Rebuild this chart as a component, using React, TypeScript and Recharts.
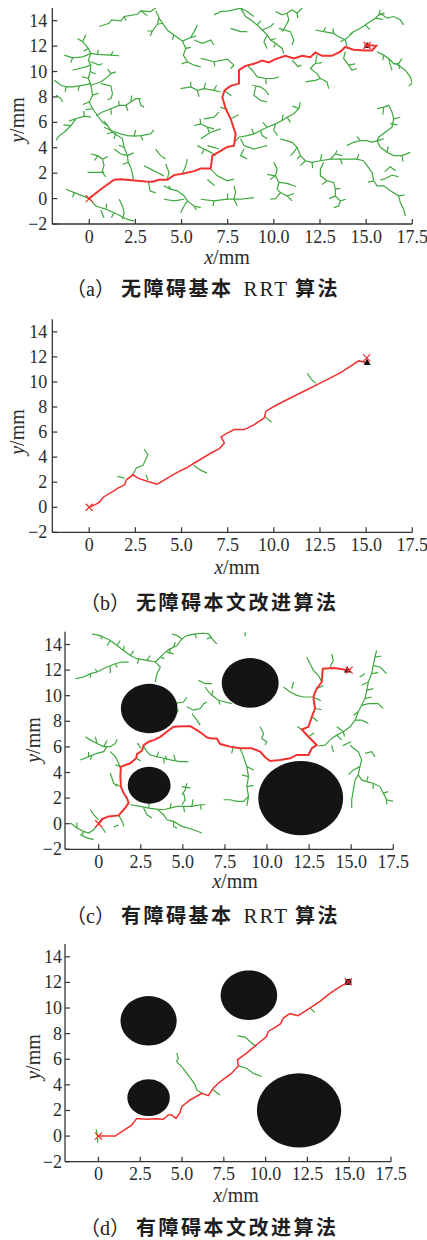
import React from "react";
import { ComposedChart, Line, Scatter, XAxis, YAxis } from "recharts";

const X_TICKS = [0, 2.5, 5, 7.5, 10, 12.5, 15, 17.5];
const Y_TICKS = [-2, 0, 2, 4, 6, 8, 10, 12, 14];
const X_DOMAIN = [-2, 17.5];
const Y_DOMAIN = [-2, 15];

const GREEN = "#3da83d";
const RED = "#f2302e";
const AXIS = "#333";
const SERIF = '"Liberation Serif", "Times New Roman", serif';
const CJK = '"Noto Sans CJK SC", sans-serif';

// obstacles (c) and (d): centre and half-axes in mm
const OBST_X = [3, 9, 3, 12];
const OBST_Y = [9, 11, 3, 2];
const OBST_RX = [1.68, 1.69, 1.27, 2.52];
const OBST_RY = [1.93, 1.94, 1.44, 2.9];

// start / goal
const START = [0, 0];
const GOAL_A = [15.05, 12.05];
const GOAL_B = [15.03, 11.92];
const GOAL_B_TRI = [15.05, 11.6];
const GOAL_C = [14.88, 12.0];
const GOAL_D = [14.95, 12.04];

// red paths, flat x,y pairs
const A_PATH = [0, 0, 0.63, 0.74, 1.35, 1.48, 1.71, 1.53, 3.06, 1.35, 3.42, 1.32, 3.78, 1.48, 4.23, 1.48, 4.59, 1.85, 5.05, 1.95, 5.68, 2.16, 6.04, 2.37, 6.58, 2.37, 6.67, 3.38, 7.12, 3.75, 7.48, 4.06, 7.84, 4.17, 7.93, 5.09, 7.66, 6.28, 7.39, 7.07, 7.21, 7.97, 7.33, 8.52, 7.66, 8.87, 8.11, 9.05, 8.11, 10.11, 8.47, 10.45, 8.92, 10.61, 9.37, 10.87, 9.73, 10.71, 10.09, 10.98, 10.63, 11.24, 11.08, 11.03, 11.53, 11.24, 11.98, 11.13, 12.25, 11.5, 12.61, 11.24, 13.15, 11.24, 13.6, 11.56, 13.87, 11.93, 14.32, 11.72, 14.95, 11.66, 15.32, 11.66, 15.55, 12.03, 15.05, 12.08];
const B_PATH = [0.09, 0.05, 0.4, 0.27, 0.58, 0.45, 0.76, 0.8, 1.2, 1.18, 1.56, 1.52, 1.92, 1.79, 2.01, 2.19, 2.37, 2.59, 2.64, 2.32, 3.18, 2.06, 3.69, 1.84, 4.08, 2.19, 4.53, 2.59, 4.98, 2.94, 5.25, 3.13, 5.7, 3.53, 6.15, 3.93, 6.6, 4.33, 7.05, 4.68, 7.32, 5.13, 7.14, 5.61, 7.5, 5.93, 7.86, 6.2, 8.4, 6.2, 8.94, 6.6, 9.48, 7.13, 9.57, 7.67, 10.2, 8.2, 10.92, 8.74, 11.82, 9.4, 12.72, 10.07, 13.62, 10.74, 14.6, 11.68, 15.05, 11.54];
const C_PATH = [0, 0, 0.2, 0.36, 0.59, 0.57, 1.19, 0.65, 1.48, 1.09, 1.78, 1.61, 1.68, 2.0, 1.48, 2.39, 1.32, 2.9, 1.29, 3.68, 1.32, 4.46, 1.88, 4.72, 2.23, 5.11, 2.27, 5.44, 2.57, 5.7, 2.67, 6.14, 2.97, 6.4, 3.26, 6.53, 3.66, 6.79, 4.05, 7.18, 4.45, 7.57, 5.04, 7.62, 5.44, 7.62, 5.83, 7.31, 6.13, 7.05, 6.43, 6.74, 6.72, 6.66, 7.02, 6.66, 7.22, 6.22, 7.81, 6.02, 8.4, 5.89, 9.1, 5.89, 9.59, 5.63, 9.89, 5.19, 10.18, 4.9, 10.78, 4.98, 11.37, 5.11, 11.77, 5.37, 12.46, 5.37, 12.66, 5.89, 12.95, 6.14, 12.46, 6.79, 12.06, 7.36, 12.46, 7.57, 12.66, 8.35, 12.85, 9.0, 12.75, 9.9, 12.95, 10.55, 13.25, 11.07, 13.31, 12.11, 13.94, 12.16, 14.34, 12.11, 14.83, 11.98];
const D_PATH = [0, 0, 1.0, 0, 1.49, 0.42, 1.99, 0.86, 2.29, 1.38, 2.89, 1.31, 3.49, 1.36, 3.88, 1.31, 4.18, 1.65, 4.38, 1.65, 4.64, 1.38, 4.88, 1.83, 4.98, 2.3, 5.48, 2.82, 6.18, 3.34, 6.57, 3.16, 6.87, 3.73, 7.17, 4.13, 7.57, 4.52, 7.97, 4.91, 8.37, 5.48, 8.31, 5.95, 8.86, 6.48, 9.46, 7.13, 10.06, 7.78, 10.16, 8.17, 10.66, 8.57, 10.9, 8.78, 11.06, 9.22, 11.45, 9.56, 11.95, 9.4, 12.55, 9.92, 13.25, 10.52, 13.75, 11.05, 14.24, 11.49, 14.94, 12.04];

// green random trees, one flat x,y list per branch
const A_TREE = [
  [-0.36, 12.35, -0.05, 11.82, 0.09, 11.42, -0.05, 10.9, 0.09, 10.5, 0.05, 10.0, -0.05, 9.45, 0.09, 8.92, 0.18, 8.13, 0, 7.6, 0.18, 7.07, 0.45, 6.54, 0.72, 6.0, 0.99, 5.75, 1.26, 5.22, 1.53, 4.96, 1.8, 4.7, 1.89, 4.04, 2.07, 3.38, 2.11, 2.85, 2.25, 2.45, 2.34, 1.93, 2.4, 1.5],
  [-0.36, 12.35, -0.63, 12.6],
  [-0.36, 12.35, -0.18, 12.9],
  [-1.35, 11.29, -0.9, 11.08, -0.36, 11.16, 0.09, 11.42, 0.45, 11.35, 1.17, 11.29, 1.62, 11.24],
  [-0.9, 10.1, -0.54, 10.24, -0.18, 10.37, 0.05, 10.5],
  [0.09, 10.77, 0.54, 10.5, 0.72, 10.63],
  [-1.89, 9.31, -1.53, 8.92, -1.26, 8.79, -0.9, 8.79, -0.54, 8.87, -0.18, 8.97, 0.09, 9.05],
  [0.09, 8.92, 0.63, 9.18, 0.99, 9.58, 1.17, 9.84, 1.44, 9.97],
  [0.63, 9.05, 1.17, 8.87, 1.26, 8.26, 1.17, 7.86, 0.99, 7.81],
  [-1.8, 8.13, -1.53, 7.86, -1.44, 7.6],
  [-1.35, 5.22, -0.99, 5.75, -0.72, 6.28, -0.27, 6.49, 0.09, 6.41],
  [-1.35, 5.22, -1.62, 4.96, -1.8, 4.6],
  [0.36, 6.54, 0.72, 6.81, 1.17, 7.07, 1.62, 7.34, 1.98, 7.34, 2.25, 7.6, 2.52, 7.86, 2.79, 7.86],
  [2.7, 7.86, 2.79, 7.34, 2.97, 7.2],
  [0.81, 5.62, 1.17, 5.36, 1.44, 5.22, 1.71, 5.09, 2.07, 4.96, 2.43, 4.91, 2.79, 4.96, 3.33, 5.09],
  [1.44, 5.22, 1.35, 4.7],
  [2.43, 4.91, 2.52, 5.4],
  [-0.72, 6.28, -1.1, 6.1],
  [1.17, 7.07, 1.2, 6.6],
  [1.98, 7.34, 2.1, 6.9],
  [0.09, 3.51, 0.45, 3.38, 0.72, 3.12, 0.8, 2.6, 0.7, 2.1, 0.9, 1.7],
  [-0.09, 2.06, 0.36, 2.06, 0.81, 2.06],
  [-1.26, 0.74, -0.81, 0.47, -0.36, 0.21, 0, 0],
  [0, 0, 0.36, -0.58, 0.9, -0.84, 1.35, -1.11, 1.71, -1.37, 2.07, -1.64, 2.43, -1.77],
  [1.62, -0.05, 1.8, -0.58, 1.89, -1.11, 1.8, -1.64],
  [0.63, -0.9, 0.8, -1.5],
  [1.35, 3.9, 1.71, 3.51, 2.07, 3.38],
  [3.6, 3.9, 3.87, 3.38, 4.14, 3.12],
  [2.97, 2.59, 3.33, 2.32, 3.69, 2.06, 4.05, 1.79],
  [4.14, 2.72, 4.32, 2.06, 4.23, 1.53],
  [5.86, 4.17, 6.22, 3.9, 6.58, 3.64, 6.85, 3.38],
  [5.68, 5.75, 6.04, 5.88, 6.4, 5.62, 6.76, 5.49],
  [4.05, 1.0, 4.41, 0.74, 4.77, 0.61, 5.14, 0.21, 5.32, -0.18, 5.68, -0.58, 6.04, -0.71],
  [5.32, -0.18, 5.14, -0.58, 4.95, -1.11],
  [4.05, -0.05, 4.59, -0.18, 5.14, -0.05],
  [6.04, -0.05, 6.76, -0.18, 7.48, -0.05, 8.2, -0.05, 8.92, 0.08],
  [7.84, 1.0, 7.93, 0.47, 7.84, -0.05, 8.02, -0.58],
  [3.2, 1.35, 3.3, 0.6, 3.6, 0.45],
  [6.58, 2.32, 6.94, 1.79, 7.48, 1.4, 7.84, 1.53],
  [6.4, 1.5, 6.8, 1.0],
  [5.05, 1.95, 5.23, 2.59, 5.32, 3.11],
  [0.54, 13.54, 1.08, 13.8, 1.21, 14.06, 1.71, 13.98, 1.89, 14.33, 2.61, 14.51, 2.79, 14.78, 3.33, 14.72, 3.6, 14.99],
  [2.79, 14.78, 3.15, 14.4],
  [3.6, 14.78, 3.78, 14.25, 3.69, 13.72, 3.42, 13.19, 3.15, 13.19],
  [3.78, 14.2, 4.23, 13.27, 4.59, 12.88, 5.05, 12.4, 5.5, 12.67, 5.68, 13.14, 5.86, 13.67],
  [5.05, 12.4, 5.23, 11.82, 5.1, 11.29, 5.32, 10.77, 5.68, 10.5, 6.04, 10.37],
  [5.68, 12.48, 6.13, 12.22, 6.58, 12.48, 6.76, 12.09],
  [6.04, 11.03, 6.76, 10.77, 7.48, 10.98, 7.84, 10.5, 7.66, 10.24],
  [6.76, 14.46, 7.12, 14.72, 7.57, 14.78, 8.2, 14.99, 8.56, 14.72, 8.92, 14.33],
  [8.2, 14.99, 8.47, 14.33, 8.74, 14.07, 9.1, 13.67, 9.37, 13.27, 9.64, 12.88, 9.82, 12.48, 10.09, 12.22, 10.45, 11.82, 10.54, 11.42],
  [7.66, 13.4, 8.2, 13.14, 8.56, 13.14],
  [9.37, 13.27, 9.82, 13.54, 10.0, 13.8],
  [9.64, 12.88, 9.46, 12.35, 9.64, 11.82],
  [10.09, 14.72, 10.45, 14.46, 10.72, 14.59, 10.99, 14.86, 11.26, 14.59, 11.53, 14.99],
  [10.72, 14.59, 10.81, 14.07, 10.63, 13.54, 10.45, 13.14],
  [10.27, 13.4, 10.9, 13.14, 11.08, 12.48, 10.99, 12.09],
  [8.6, 10.45, 8.83, 10.1, 9.1, 9.58, 9.55, 9.45, 10.0, 9.45, 10.27, 9.58],
  [8.83, 8.92, 9.28, 8.79, 9.55, 8.52, 9.73, 8.13],
  [9.01, 8.79, 8.92, 8.13, 9.28, 7.73, 9.64, 7.6],
  [12.34, 11.29, 12.25, 10.63, 11.98, 10.24, 12.34, 9.84, 12.52, 9.45, 12.25, 9.31, 11.71, 9.18],
  [12.52, 9.45, 12.88, 9.18, 12.97, 8.65],
  [12.25, 13.27, 12.7, 13.14, 13.24, 13.0, 13.51, 12.74, 13.87, 12.48, 13.96, 12.0],
  [13.6, 12.35, 13.96, 12.61, 14.32, 13.14, 14.68, 13.4, 14.95, 13.67, 15.23, 13.93, 15.5, 14.2, 15.68, 14.46, 15.77, 14.85],
  [15.77, 14.59, 16.13, 14.2, 16.49, 14.33, 16.85, 14.07, 17.03, 13.67],
  [15.5, 14.2, 15.9, 14.1],
  [14.95, 13.67, 15.2, 13.3],
  [13.87, 11.56, 13.78, 11.03, 14.05, 10.5, 14.23, 10.1, 14.5, 10.24],
  [15.59, 11.56, 15.95, 11.29, 16.22, 11.03, 16.49, 10.63, 16.76, 10.63, 16.94, 11.03],
  [16.49, 10.63, 16.76, 10.5, 17.12, 10.1, 17.39, 9.58, 17.5, 9.1, 17.3, 8.85],
  [16.22, 11.03, 16.31, 10.5, 16.4, 10.1],
  [11.0, 10.9, 11.3, 10.4, 11.5, 10.5],
  [7.3, 8.5, 7.7, 8.1],
  [7.7, 6.3, 8.1, 6.6],
  [7.5, 7.0, 7.1, 7.2],
  [11.44, 7.6, 11.35, 7.07, 11.08, 6.68, 10.72, 6.41, 10.45, 6.15, 10.09, 5.88, 9.64, 5.62, 9.28, 5.36, 8.92, 5.09, 8.56, 4.96, 8.11, 4.83, 7.9, 4.5],
  [10.72, 6.41, 10.9, 6.0],
  [10.09, 5.88, 10.0, 5.36, 10.2, 4.96],
  [9.28, 5.36, 9.37, 4.96, 9.64, 4.7],
  [11.35, 7.07, 11.0, 7.3],
  [9.64, 5.62, 9.4, 6.0],
  [10.36, 4.7, 10.99, 4.43, 11.26, 4.04, 11.44, 3.38, 11.71, 2.98, 12.07, 2.85, 12.52, 2.98, 13.06, 3.11, 13.6, 3.11, 13.96, 3.11, 14.5, 3.11, 14.86, 2.98],
  [11.26, 4.04, 11.08, 3.64, 10.9, 3.38],
  [11.44, 3.38, 11.26, 3.11],
  [11.71, 2.98, 11.44, 2.59],
  [12.52, 2.98, 12.6, 3.5],
  [13.06, 3.11, 13.33, 3.51, 13.42, 3.78],
  [13.33, 3.51, 13.7, 3.38],
  [13.96, 4.17, 14.32, 4.43, 14.68, 4.56, 15.05, 4.56, 15.32, 4.43, 15.59, 4.56, 15.95, 4.7],
  [15.59, 4.56, 15.77, 4.04, 16.13, 3.64, 16.49, 3.38, 16.94, 3.38, 17.39, 3.64],
  [15.59, 7.07, 15.95, 7.2, 16.22, 7.34, 16.4, 6.81, 16.49, 6.28, 16.4, 5.62, 16.04, 5.22, 15.68, 4.83, 15.59, 4.56],
  [16.49, 6.28, 16.85, 6.4],
  [16.3, 5.9, 16.7, 5.8],
  [15.95, 7.2, 15.9, 6.6],
  [14.68, 4.56, 14.5, 4.9],
  [14.86, 2.98, 15.05, 2.59, 15.32, 2.06, 15.41, 1.4, 15.59, 1.0, 15.95, 1.0, 16.31, 0.61, 16.76, 0.21, 16.85, -0.32, 17.03, -0.84, 17.12, -1.37],
  [15.77, 1.45, 16.04, 1.58, 16.4, 1.85, 16.76, 1.72],
  [16.0, 2.1, 16.3, 2.5, 16.6, 2.2],
  [12.7, 2.85, 12.52, 2.32, 12.52, 1.79, 12.88, 1.4, 13.24, 1.27, 13.33, 0.74, 13.33, 0.21, 13.6, -0.18, 13.51, -0.58, 13.24, -0.71],
  [13.33, 0.21, 13.0, 0.0],
  [13.6, -0.18, 13.9, -0.05],
  [10.0, 2.85, 10.18, 2.32, 10.09, 1.79, 10.27, 1.27, 10.18, 0.74, 10.36, 0.47, 10.72, 0.21, 10.99, -0.18],
  [9.64, 1.9, 10.09, 1.79],
  [10.27, 1.27, 10.72, 1.2, 11.2, 0.95],
  [10.36, 0.47, 10.1, 0.0, 9.8, -0.05],
  [10.72, 0.21, 11.1, 0.4],
  [8.2, 4.7, 8.38, 4.17, 8.92, 3.9, 9.28, 4.04, 9.64, 4.17],
  [8.38, 3.9, 8.2, 3.38, 8.56, 3.11],
  [4.95, 8.65, 5.5, 8.79, 5.86, 8.52, 6.22, 8.65, 6.76, 8.52, 7.12, 8.39],
  [5.86, 8.52, 5.95, 8.0],
  [6.22, 8.65, 6.3, 9.1],
  [7.03, 6.81, 6.76, 6.41, 6.22, 6.28],
  [6.04, 4.7, 6.58, 5.22, 7.12, 5.49],
  [6.4, 4.17, 7.03, 3.9],
];

// short side twigs of tree (a)
const A_TWIGS = [
  [-0.05, 11.82, -0.3, 11.6], [0.05, 10.0, 0.35, 9.8], [-0.05, 9.45, -0.4, 9.6], [0.18, 8.13, 0.5, 8.3],
  [0, 7.6, -0.35, 7.4], [0.18, 7.07, -0.2, 7.0], [0.99, 5.75, 0.8, 6.1], [1.26, 5.22, 0.95, 5.1],
  [1.89, 4.04, 1.6, 4.2], [2.07, 3.38, 2.4, 3.6], [2.11, 2.85, 1.8, 2.7], [-0.9, 11.08, -1.0, 10.7],
  [0.45, 11.35, 0.5, 11.7], [1.17, 11.29, 1.3, 11.6], [-1.26, 8.79, -1.3, 8.4], [-0.54, 8.87, -0.6, 8.5],
  [1.17, 9.84, 1.0, 10.2], [2.25, 7.6, 2.3, 8.1], [1.62, 7.34, 1.6, 7.7], [-0.27, 6.49, -0.3, 6.9],
  [-0.99, 5.75, -1.4, 5.8], [0.45, 3.38, 0.3, 3.0], [0.72, 3.12, 1.0, 3.3], [-0.81, 0.47, -0.9, 0.1],
  [0.9, -0.84, 0.95, -0.4], [1.35, -1.11, 1.2, -1.5], [3.69, 13.72, 4.0, 13.8], [4.59, 12.88, 4.5, 12.5],
  [5.5, 12.67, 5.8, 12.8], [5.23, 11.82, 5.5, 11.9], [5.32, 10.77, 5.0, 10.6], [6.76, 10.77, 6.8, 10.4],
  [9.1, 13.67, 9.3, 14.0], [9.82, 12.48, 10.1, 12.6], [10.09, 12.22, 10.0, 11.9], [12.7, 13.14, 12.8, 13.5],
  [14.32, 13.14, 14.1, 12.9], [15.68, 14.46, 16.0, 14.6], [16.76, 10.63, 16.8, 10.2], [15.95, 11.29, 15.9, 10.9],
  [10.45, 6.15, 10.5, 6.6], [8.92, 5.09, 8.8, 5.5], [12.07, 2.85, 12.1, 2.4], [13.6, 3.11, 13.7, 2.7],
  [14.5, 3.11, 14.6, 3.5], [16.13, 3.64, 16.2, 4.1], [16.94, 3.38, 17.0, 2.9], [15.41, 1.4, 15.1, 1.3],
  [16.76, 0.21, 17.1, 0.3], [12.88, 1.4, 12.6, 1.1], [13.33, 0.74, 13.6, 0.8], [10.09, 1.79, 9.8, 1.5],
  [7.48, -0.05, 7.5, 0.4], [6.76, -0.18, 6.7, -0.6], [4.41, 0.74, 4.3, 1.0], [5.68, -0.58, 5.8, -0.9],
  [6.22, 3.9, 6.1, 3.5], [6.04, 5.88, 6.0, 6.3], [6.4, 5.62, 6.5, 5.2], [5.5, 8.79, 5.5, 9.2],
  [6.76, 8.52, 6.9, 8.9], [3.33, 5.09, 3.5, 5.4], [2.79, 4.96, 2.9, 4.6], [3.42, 13.19, 3.3, 12.8],
  [1.89, 14.33, 2.0, 14.0], [11.26, 14.59, 11.3, 14.2], [13.24, 13.0, 13.2, 13.4], [9.55, 9.45, 9.6, 9.0],
  [12.25, 10.63, 12.6, 10.7], [14.05, 10.5, 14.4, 10.6],
];

const B_TREE = [
  [1.53, 2.46, 1.92, 2.32],
  [2.37, 2.59, 2.55, 3.13, 2.91, 3.34, 3.18, 4.19, 2.97, 4.65],
  [3.18, 2.19, 3.06, 2.59],
  [5.67, 3.34, 6.06, 2.94, 6.38, 2.72],
  [9.48, 7.27, 9.88, 6.79],
  [12.27, 9.89, 12.0, 10.26, 11.82, 10.69],
];

const C_TREE = [
  [-0.4, 14.83, 0.1, 14.7, 0.69, 14.31, 1.09, 13.92, 1.48, 13.53, 1.88, 13.14, 2.27, 12.89, 2.87, 12.76, 3.36, 12.63, 3.66, 12.24, 3.46, 11.72, 3.36, 11.07],
  [1.09, 13.92, 1.28, 14.31],
  [1.88, 13.14, 2.08, 13.5],
  [2.87, 12.76, 3.06, 13.14],
  [0.69, 14.31, 0.5, 13.9],
  [2.4, 12.9, 2.3, 12.5],
  [3.36, 12.63, 3.66, 13.01, 3.95, 13.4, 4.25, 13.66, 4.65, 13.92, 4.94, 14.44, 5.24, 14.7, 5.73, 14.83, 6.23, 14.88, 6.53, 14.83, 6.82, 14.31, 7.02, 14.05],
  [4.05, 13.4, 4.45, 13.27],
  [4.45, 13.8, 4.55, 14.2],
  [4.94, 14.44, 4.65, 14.7, 4.35, 14.83],
  [6.43, 14.44, 6.72, 14.57],
  [8.7, 14.65, 8.7, 14.95],
  [-1.38, 11.33, -0.89, 11.46, -0.49, 11.72, -0.1, 11.85, 0.49, 12.24, 0.99, 12.5, 1.38, 12.63, 1.78, 12.63],
  [-0.1, 11.85, -0.2, 12.1],
  [0.69, 12.3, 0.69, 11.75],
  [5.93, 11.2, 6.33, 10.94, 6.72, 10.94],
  [6.33, 10.68, 6.53, 10.29, 6.72, 10.03, 7.12, 9.64, 7.51, 9.51, 7.91, 9.38],
  [5.24, 9.13, 5.63, 8.87, 6.03, 9.0, 6.23, 9.38, 6.43, 9.51],
  [5.54, 8.61, 5.83, 8.09, 6.03, 7.7],
  [4.45, 9.38, 5.04, 9.51, 5.24, 9.9],
  [4.75, 8.9, 4.55, 8.5],
  [10.98, 10.68, 11.37, 10.29, 11.77, 10.03, 12.16, 9.9, 12.66, 9.9],
  [11.57, 11.07, 11.47, 10.55],
  [12.36, 13.01, 12.56, 12.5, 12.75, 11.98, 13.05, 11.59, 13.25, 11.07],
  [13.84, 13.27, 13.94, 12.76, 13.74, 12.24],
  [16.51, 13.53, 16.41, 13.01, 16.31, 12.37, 16.21, 11.72, 16.02, 11.07, 15.92, 10.42, 15.82, 9.77, 15.62, 9.25, 15.42, 8.74, 15.23, 8.09, 14.93, 7.57, 14.54, 7.18, 14.14, 6.92, 13.84, 6.66, 13.45, 6.14, 13.05, 6.07],
  [16.31, 12.37, 16.71, 12.24, 17.1, 11.72],
  [16.02, 11.07, 15.62, 10.81],
  [15.92, 10.42, 16.31, 10.55],
  [15.62, 9.25, 16.02, 9.38, 16.61, 9.38, 16.9, 8.99],
  [15.42, 8.74, 15.13, 8.48],
  [15.23, 8.09, 15.62, 8.09, 16.02, 7.83],
  [14.54, 7.18, 14.14, 7.57],
  [14.14, 6.92, 14.44, 6.53],
  [15.82, 11.72, 15.5, 11.46],
  [14.93, 6.14, 15.13, 5.89, 15.42, 5.63, 15.62, 4.98, 15.52, 4.46, 15.42, 3.81, 15.62, 3.42, 15.92, 3.29, 16.31, 3.16, 16.71, 2.9, 16.9, 2.39, 17.1, 1.87, 17.5, 1.74],
  [15.52, 4.46, 15.13, 4.2, 14.83, 3.81],
  [15.42, 3.81, 15.23, 3.42, 15.13, 2.64, 15.03, 1.87, 15.03, 1.22],
  [15.82, 5.5, 16.21, 5.63, 16.41, 5.24],
  [16.9, 2.39, 17.2, 2.5],
  [17.1, 1.87, 17.1, 1.5],
  [13.84, 6.14, 13.94, 5.6],
  [15.0, 6.4, 14.5, 6.1],
  [8.4, 5.89, 8.6, 5.24, 8.8, 4.46, 8.9, 3.68, 8.8, 2.9, 8.9, 2.13, 8.6, 1.74, 8.21, 1.74, 7.81, 1.87, 7.42, 1.87],
  [8.8, 4.46, 9.2, 4.2],
  [8.9, 3.68, 8.5, 3.81],
  [8.8, 2.9, 9.2, 3.0],
  [8.9, 2.13, 8.8, 1.4],
  [8.0, 6.1, 7.9, 5.5],
  [9.59, 7.57, 9.79, 7.05, 9.69, 6.66, 9.98, 6.4, 9.89, 6.14],
  [-0.79, 6.79, -0.49, 6.53, -0.1, 6.27, 0.3, 6.02, 0.69, 6.02, 0.99, 6.27],
  [-1.09, 4.98, -0.59, 5.24, -0.1, 5.5, 0.3, 5.63, 0.49, 6.02],
  [0.69, 5.63, 0.99, 5.24, 1.19, 4.72, 1.29, 4.33],
  [0.69, 3.94, 0.89, 3.16, 1.09, 2.9],
  [-0.4, 5.3, -0.5, 5.0],
  [-0.1, 6.27, -0.2, 6.8],
  [0.3, 6.02, 0.5, 6.5],
  [1.88, 1.48, 2.47, 1.35, 2.97, 1.22, 3.46, 1.14, 3.86, 1.09, 4.25, 1.22, 4.65, 1.35, 5.04, 1.35, 5.54, 1.35, 6.03, 1.48, 6.33, 1.48],
  [2.67, 1.22, 2.87, 0.7, 3.16, 0.44],
  [3.46, 1.14, 3.86, 0.7, 4.05, 0.31, 4.45, 0.18, 4.94, -0.21, 5.63, -0.47, 6.13, -0.73],
  [5.04, 2.39, 5.14, 1.87, 4.94, 1.48],
  [5.24, 3.16, 5.14, 2.64, 4.94, 2.26],
  [4.45, 0.18, 4.45, -0.2, 4.65, -0.35],
  [4.94, 2.9, 5.44, 2.8],
  [5.54, 1.35, 5.6, 1.9],
  [-1.68, 0.05, -1.29, -0.34, -0.89, -0.6, -0.59, -0.73, -0.3, -0.47, 0, 0],
  [-1.09, -0.86, -0.69, -1.11, -0.3, -1.24],
  [-0.49, 1.09, -0.3, 0.7, 0, 0.3],
  [0.2, -0.3, 0.4, -0.7],
  [1.19, 0.65, 1.4, 0.2, 1.5, -0.2],
  [1.2, -0.1, 0.9, -0.25],
  [2.67, 6.02, 2.87, 5.63, 3.06, 5.37, 3.46, 5.24, 3.86, 5.11, 4.25, 4.98, 4.84, 4.85, 5.34, 4.85],
  [3.46, 5.24, 3.56, 5.63],
  [3.95, 5.3, 4.05, 5.0],
  [4.45, 5.4, 4.55, 4.98],
  [2.3, 6.3, 2.5, 5.9],
  [12.95, 10.55, 13.35, 10.8],
  [12.75, 9.9, 13.2, 9.6],
  [12.85, 9.0, 13.25, 8.9],
  [12.66, 8.35, 13.0, 8.0],
  [12.06, 7.36, 11.8, 7.6],
  [12.46, 6.79, 12.8, 7.1],
  [1.32, 2.9, 0.99, 3.1],
  [1.32, 4.46, 0.99, 4.6],
  [2.23, 5.11, 2.5, 4.9],
];

// short side twigs of tree (c)
const C_TWIGS = [
  [1.48, 13.53, 1.5, 13.9], [0.1, 14.7, 0.2, 14.4], [3.66, 13.01, 3.9, 12.9], [4.25, 13.66, 4.2, 13.3],
  [5.73, 14.83, 5.8, 14.5], [-0.49, 11.72, -0.5, 11.4], [0.99, 12.5, 1.1, 12.2], [6.72, 10.03, 6.8, 10.4],
  [7.12, 9.64, 7.2, 9.3], [15.92, 3.29, 16.0, 3.7], [16.31, 3.16, 16.3, 2.7], [-0.59, 5.24, -0.6, 5.6],
  [0.99, 6.27, 1.1, 6.6], [2.97, 1.22, 3.0, 1.6], [4.25, 1.22, 4.3, 1.6], [5.04, 1.35, 5.1, 0.9],
  [6.03, 1.48, 6.1, 1.1], [-1.29, -0.34, -1.3, 0.1], [-0.89, -0.6, -1.0, -0.9], [3.86, 5.11, 3.9, 4.7],
  [14.54, 7.18, 14.6, 6.8], [15.82, 9.77, 16.2, 9.9], [16.41, 13.01, 16.8, 13.1], [16.21, 11.72, 16.6, 11.8],
];

const D_TREE = [
  [-0.14, 0.52, -0.06, 0, -0.04, -0.52],
  [4.68, 6.48, 4.78, 6.08, 4.68, 5.82, 4.98, 5.43, 5.28, 4.91, 5.58, 4.39, 5.78, 4.0, 5.88, 3.6, 6.18, 3.34],
  [6.87, 3.6, 7.27, 3.21],
  [8.31, 7.83, 8.77, 7.73, 9.06, 7.39, 9.42, 7.0],
  [8.37, 5.48, 8.86, 5.3, 9.26, 4.91, 9.76, 4.65],
  [12.65, 10.0, 12.95, 9.66],
];

const toPts = (flat: number[]) => {
  const out: { x: number; y: number }[] = [];
  for (let i = 0; i < flat.length; i += 2) out.push({ x: flat[i], y: flat[i + 1] });
  return out;
};

// outline of each obstacle, built from centre + half-axes
const ellipse = (i: number) =>
  Array.from({ length: 49 }, (_, k) => {
    const t = (k / 48) * Math.PI * 2;
    return { x: OBST_X[i] + OBST_RX[i] * Math.cos(t), y: OBST_Y[i] + OBST_RY[i] * Math.sin(t) };
  });

const fillShape = (p: any) => {
  const pts = (p.points || []) as { x: number; y: number }[];
  const d = pts.map((q, i) => `${i ? "L" : "M"}${q.x},${q.y}`).join(" ") + "Z";
  return <path d={d} fill="#141414" stroke="none" />;
};

const Cross = (props: any) => {
  const { cx, cy } = props;
  const s = 3.5;
  return (
    <g stroke={RED} strokeWidth={1.3}>
      <line x1={cx - s} y1={cy - s} x2={cx + s} y2={cy + s} />
      <line x1={cx - s} y1={cy + s} x2={cx + s} y2={cy - s} />
    </g>
  );
};
const Star = (props: any) => {
  const { cx, cy } = props;
  return (
    <g>
      <path d={`M${cx - 3.5},${cy + 2.5}L${cx},${cy - 3.5}L${cx + 3.5},${cy + 2.5}Z`} fill="#111" />
      <line x1={cx - 3} y1={cy} x2={cx + 3} y2={cy} stroke={RED} strokeWidth={1.2} />
    </g>
  );
};
const Tri = (props: any) => {
  const { cx, cy } = props;
  return <path d={`M${cx - 3.5},${cy + 3}L${cx},${cy - 3.5}L${cx + 3.5},${cy + 3}Z`} fill="#111" />;
};
const Sq = (props: any) => {
  const { cx, cy } = props;
  return <rect x={cx - 3} y={cy - 3} width={6} height={6} fill="#111" />;
};

const fmtX = (v: number) => (v === 0 ? "0" : v.toFixed(1));
const fmtY = (v: number) => (v < 0 ? `\u2212${Math.abs(v)}` : `${v}`);

function Panel(props: any) {
  const { top, height, plot, tree, path, pathWidth, obstacles, goal, goalMark, caption, letter, xLab, yLab, gap } = props;
  const XTick = (p: any) => {
    const { x, y, payload } = p;
    return (
      <g>
        <line x1={x} x2={x} y1={y} y2={y - 5} stroke={AXIS} strokeWidth={1.2} />
        <text x={x} y={y + 18.5} textAnchor="middle" fontFamily={SERIF} fontSize={18} fill="#2b2b2b">
          {fmtX(payload.value)}
        </text>
      </g>
    );
  };
  const YTick = (p: any) => {
    const { x, y, payload } = p;
    return (
      <g>
        <line x1={x} x2={x + 5} y1={y} y2={y} stroke={AXIS} strokeWidth={1.2} />
        <text x={x - gap} y={y + 6} textAnchor="end" fontFamily={SERIF} fontSize={18} fill="#2b2b2b">
          {fmtY(payload.value)}
        </text>
      </g>
    );
  };
  return (
    <div style={{ position: "absolute", left: 0, top, width: 427, height }}>
      <ComposedChart
        width={427}
        height={height}
        margin={{ top: plot.t, right: 427 - plot.r, bottom: height - plot.b - 40, left: 0 }}
      >
        <XAxis
          type="number"
          dataKey="x"
          domain={X_DOMAIN}
          ticks={X_TICKS}
          interval={0}
          allowDataOverflow
          height={40}
          tickSize={0}
          tickMargin={0}
          tickLine={false}
          axisLine={{ stroke: AXIS, strokeWidth: 1.3 }}
          tick={XTick}
        />
        <YAxis
          type="number"
          dataKey="y"
          domain={Y_DOMAIN}
          ticks={Y_TICKS}
          interval={0}
          allowDataOverflow
          width={plot.l}
          tickSize={0}
          tickMargin={0}
          tickLine={false}
          axisLine={{ stroke: AXIS, strokeWidth: 1.3 }}
          tick={YTick}
        />
        {obstacles &&
          OBST_X.map((_, i) => (
            <Scatter
              key={`ob${i}`}
              data={ellipse(i)}
              line={fillShape}
              shape={() => <g />}
              isAnimationActive={false}
            />
          ))}
        {tree.map((b: number[], i: number) => (
          <Line
            key={`t${i}`}
            data={toPts(b)}
            dataKey="y"
            type="linear"
            stroke={GREEN}
            strokeWidth={1.2}
            dot={false}
            activeDot={false}
            isAnimationActive={false}
          />
        ))}
        <Line
          data={toPts(path)}
          dataKey="y"
          type="linear"
          stroke={RED}
          strokeWidth={pathWidth}
          dot={false}
          activeDot={false}
          isAnimationActive={false}
        />
        {goalMark}
        <Scatter data={[{ x: START[0], y: START[1] }]} shape={Cross} isAnimationActive={false} />
        <Scatter data={[{ x: goal[0], y: goal[1] }]} shape={Cross} isAnimationActive={false} />
      </ComposedChart>
      <div
        style={{
          position: "absolute",
          left: xLab[0],
          top: xLab[1],
          transform: "translate(-50%,-50%)",
          fontFamily: SERIF,
          fontSize: 20,
          color: "#2b2b2b",
          whiteSpace: "nowrap",
          lineHeight: "15px",
        }}
      >
        <i>x</i>/mm
      </div>
      <div
        style={{
          position: "absolute",
          left: yLab[0],
          top: yLab[1],
          transform: "translate(-50%,-50%) rotate(-90deg)",
          fontFamily: SERIF,
          fontSize: 20,
          color: "#2b2b2b",
          whiteSpace: "nowrap",
          lineHeight: 1,
        }}
      >
        <i>y</i>/mm
      </div>
      <div
        style={{
          position: "absolute",
          left: caption[0],
          top: caption[1] - 11,
          fontSize: 20,
          lineHeight: "22px",
          color: "#1e1e1e",
          whiteSpace: "pre",
          display: "flex",
          alignItems: "baseline",
        }}
      >
        <span style={{ fontFamily: CJK }}>（</span>
        <span style={{ fontFamily: SERIF }}>{letter}</span>
        <span style={{ fontFamily: CJK, marginRight: 6 }}>）</span>
        {caption[2].map((seg: string, i: number) =>
          /[A-Z]/.test(seg) ? (
            <span key={i} style={{ fontFamily: SERIF, fontSize: 21, letterSpacing: 2, margin: "0 6px 0 10px" }}>
              {seg}
            </span>
          ) : (
            <span key={i} style={{ fontFamily: CJK, fontWeight: 700, letterSpacing: 2.5 }}>
              {seg}
            </span>
          )
        )}
      </div>
    </div>
  );
}

export default function App() {
  return (
    <div style={{ position: "absolute", left: 0, top: 0, width: 427, height: 1240, background: "#fff", overflow: "hidden" }}>
      <Panel
        top={0}
        height={300}
        plot={{ l: 52.3, r: 412.3, t: 8, b: 224 }}
        gap={5}
        tree={[...A_TREE, ...A_TWIGS]}
        path={A_PATH}
        pathWidth={2}
        goal={GOAL_A}
        goalMark={<Scatter data={[{ x: GOAL_A[0], y: GOAL_A[1] }]} shape={Star} isAnimationActive={false} />}
        letter="a"
        caption={[66, 288, ["无障碍基本", "RRT", "算法"]]}
        xLab={[227, 257]}
        yLab={[17, 120]}
      />
      <Panel
        top={300}
        height={320}
        plot={{ l: 52.3, r: 412.3, t: 19.3, b: 232.3 }}
        gap={5}
        tree={B_TREE}
        path={B_PATH}
        pathWidth={1.5}
        goal={GOAL_B}
        goalMark={<Scatter data={[{ x: GOAL_B_TRI[0], y: GOAL_B_TRI[1] }]} shape={Tri} isAnimationActive={false} />}
        letter="b"
        caption={[80, 301.7, ["无障碍本文改进算法"]]}
        xLab={[237, 267]}
        yLab={[17, 131.7]}
      />
      <Panel
        top={620}
        height={310}
        plot={{ l: 65, r: 393.3, t: 11.7, b: 229.3 }}
        gap={3}
        obstacles
        tree={[...C_TREE, ...C_TWIGS]}
        path={C_PATH}
        pathWidth={2}
        goal={GOAL_C}
        goalMark={<Scatter data={[{ x: GOAL_C[0] - 0.1, y: GOAL_C[1] }]} shape={Star} isAnimationActive={false} />}
        letter="c"
        caption={[66, 295, ["有障碍基本", "RRT", "算法"]]}
        xLab={[235, 261]}
        yLab={[33, 120]}
      />
      <Panel
        top={930}
        height={310}
        plot={{ l: 65, r: 391, t: 14, b: 231.7 }}
        gap={3}
        obstacles
        tree={D_TREE}
        path={D_PATH}
        pathWidth={1.5}
        goal={GOAL_D}
        goalMark={<Scatter data={[{ x: GOAL_D[0], y: GOAL_D[1] }]} shape={Sq} isAnimationActive={false} />}
        letter="d"
        caption={[80, 297, ["有障碍本文改进算法"]]}
        xLab={[236, 264.5]}
        yLab={[33, 127]}
      />
    </div>
  );
}
